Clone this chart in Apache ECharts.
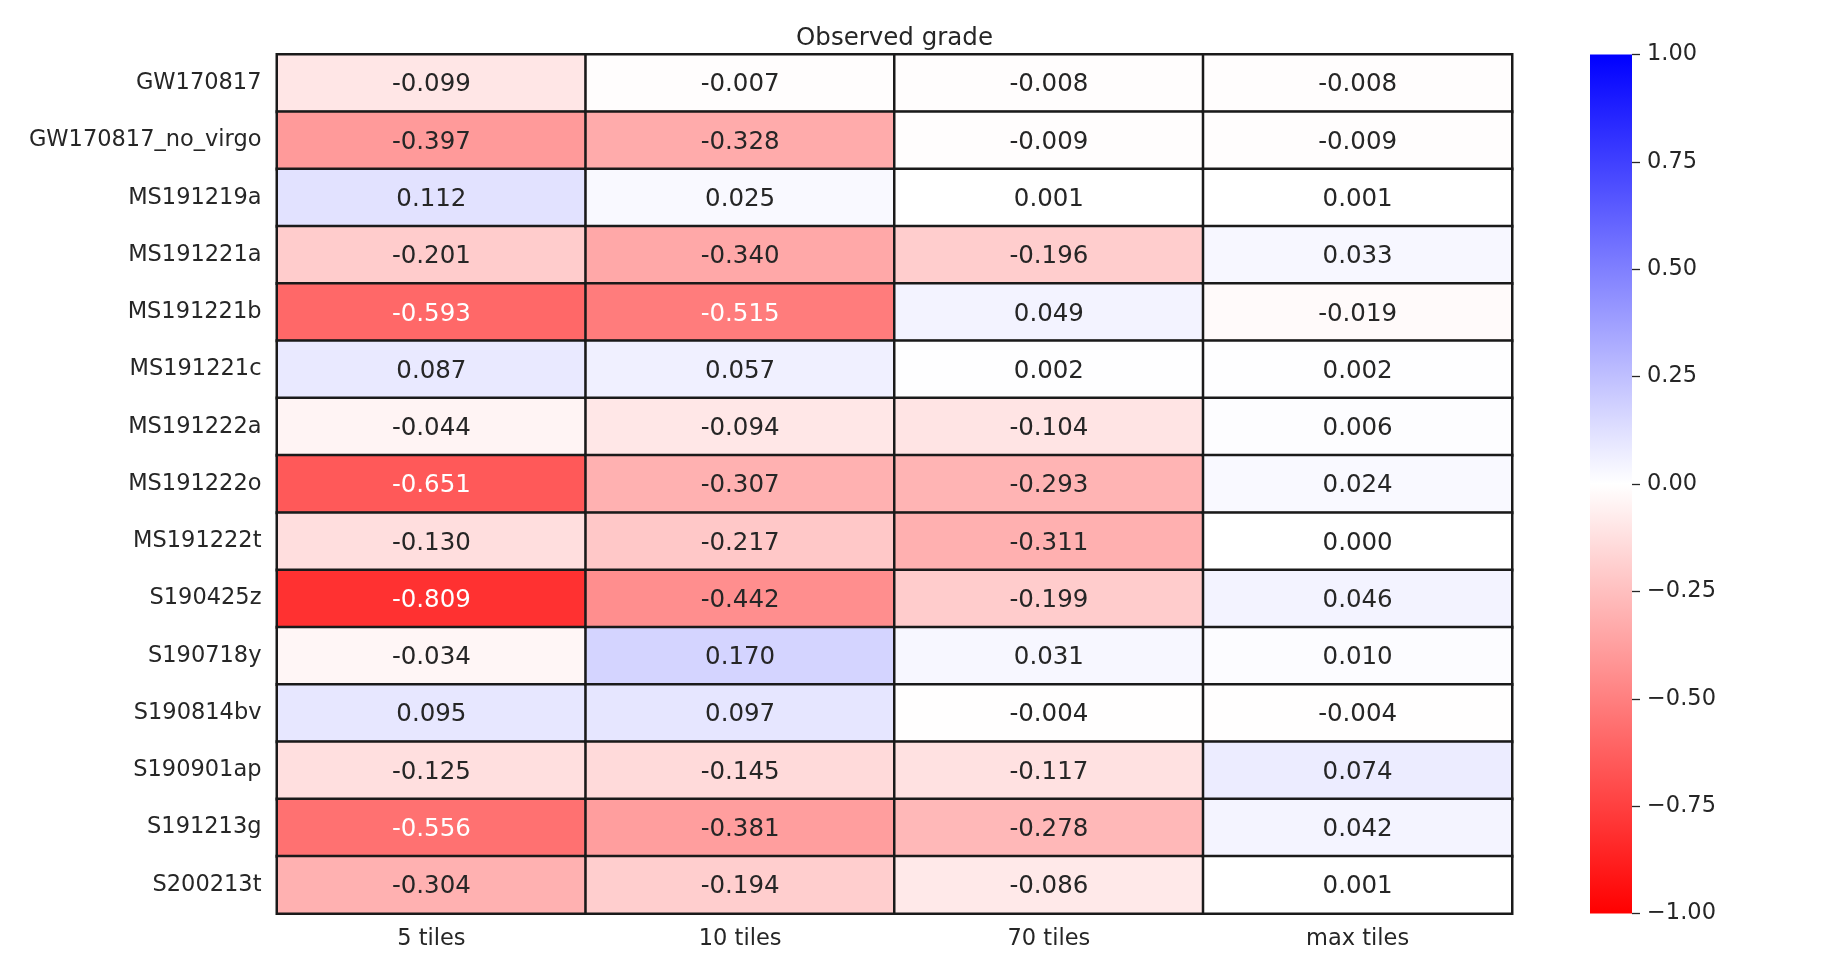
<!DOCTYPE html>
<html>
<head>
    <meta charset="UTF-8">
    <title>Observed grade</title>
    <style>
        body,
        html {
            width: 100%;
            height: 100%;
            margin: 0;
            padding: 0;
            background: #ffffff;
        }
        #myChart {
            width: 1848px;
            height: 977px;
        }
    </style>
    <script src="https://cdn.jsdelivr.net/npm/echarts@6.0.0/dist/echarts.min.js"></script>
</head>
<body>
    <div id="myChart"></div>
    <script>

        // row / column names
        const rowNames = ['GW170817', 'GW170817_no_virgo', 'MS191219a', 'MS191221a', 'MS191221b',
            'MS191221c', 'MS191222a', 'MS191222o', 'MS191222t', 'S190425z', 'S190718y',
            'S190814bv', 'S190901ap', 'S191213g', 'S200213t'];
        const colNames = ['5 tiles', '10 tiles', '70 tiles', 'max tiles'];

        // values per column, same order as rowNames
        const fiveTiles = [-0.099, -0.397, 0.112, -0.201, -0.593, 0.087, -0.044, -0.651, -0.130, -0.809, -0.034, 0.095, -0.125, -0.556, -0.304];
        const tenTiles = [-0.007, -0.328, 0.025, -0.340, -0.515, 0.057, -0.094, -0.307, -0.217, -0.442, 0.170, 0.097, -0.145, -0.381, -0.194];
        const seventyTiles = [-0.008, -0.009, 0.001, -0.196, 0.049, 0.002, -0.104, -0.293, -0.311, -0.199, 0.031, -0.004, -0.117, -0.278, -0.086];
        const maxTiles = [-0.008, -0.009, 0.001, 0.033, -0.019, 0.002, 0.006, 0.024, 0.000, 0.046, 0.010, -0.004, 0.074, 0.042, 0.001];

        const columns = [fiveTiles, tenTiles, seventyTiles, maxTiles];

        // colour scale ends (bwr_r)
        const scaleMin = -1;
        const scaleMax = 1;
        const scaleColors = ['#ff0000', '#ffffff', '#0000ff'];

        const FONT = 'DejaVu Sans';
        const TEXT = '#262626';

        // bwr_r: -1 red, 0 white, 1 blue
        function cellRgb(v) {
            if (v < 0) return [1, 1 + v, 1 + v];
            return [1 - v, 1 - v, 1];
        }
        // dark or light annotation depending on cell luminance
        function annotColor(v) {
            let c = cellRgb(v).map(x => x <= 0.03928 ? x / 12.92 : Math.pow((x + 0.055) / 1.055, 2.4));
            let lum = 0.2126 * c[0] + 0.7152 * c[1] + 0.0722 * c[2];
            return lum > 0.408 ? TEXT : '#ffffff';
        }

        let data = [];
        columns.forEach((col, x) => {
            col.forEach((v, y) => {
                data.push({ value: [x, y, v], label: { color: annotColor(v) } });
            });
        });

        let myEcharts = echarts.init(document.querySelector('#myChart'));

        // colorbar fill: top = max, bottom = min
        let barGradient = new echarts.graphic.LinearGradient(0, 0, 0, 1, [
            { offset: 0, color: scaleColors[2] },
            { offset: 0.5, color: scaleColors[1] },
            { offset: 1, color: scaleColors[0] }
        ]);

        let option = {
            backgroundColor: '#ffffff',
            animation: false,
            graphic: [{
                type: 'text',
                x: 894.5,
                y: 39,
                style: {
                    text: 'Observed grade',
                    align: 'center',
                    verticalAlign: 'middle',
                    fontFamily: FONT,
                    fontSize: 24.5,
                    fill: TEXT
                }
            }],
            grid: [
                { left: 277, top: 54.5, width: 1235, height: 859 },
                { left: 1590, top: 54.5, width: 42, height: 859, show: true, backgroundColor: barGradient, borderWidth: 0 }
            ],
            xAxis: [{
                type: 'category',
                gridIndex: 0,
                data: colNames,
                position: 'bottom',
                axisLine: { show: false },
                axisTick: { show: false },
                splitLine: { show: false },
                axisLabel: { color: TEXT, fontFamily: FONT, fontSize: 22.5, margin: 14 }
            }, {
                type: 'category',
                gridIndex: 1,
                data: [''],
                show: false
            }],
            yAxis: [{
                type: 'category',
                gridIndex: 0,
                data: rowNames,
                inverse: true,
                axisLine: { show: false },
                axisTick: { show: false },
                splitLine: { show: false },
                axisLabel: { color: TEXT, fontFamily: FONT, fontSize: 22.5, margin: 15.5, padding: [4, 0, 0, 0] }
            }, {
                // colorbar ticks
                type: 'value',
                gridIndex: 1,
                position: 'right',
                min: scaleMin,
                max: scaleMax,
                interval: 0.25,
                axisLine: { show: false, onZero: false },
                splitLine: { show: false },
                axisTick: { show: true, length: 8, lineStyle: { color: TEXT, width: 1.3 } },
                axisLabel: {
                    color: TEXT,
                    fontFamily: FONT,
                    fontSize: 22.5,
                    margin: 15,
                    padding: [4, 0, 0, 0],
                    formatter: v => v.toFixed(2).replace('-', '\u2212')
                }
            }],
            visualMap: {
                type: 'continuous',
                show: false,
                seriesIndex: 0,
                min: scaleMin,
                max: scaleMax,
                inRange: { color: scaleColors }
            },
            series: [{
                type: 'heatmap',
                xAxisIndex: 0,
                yAxisIndex: 0,
                data: data,
                itemStyle: { borderColor: '#1a1a1a', borderWidth: 2.5 },
                label: {
                    show: true,
                    fontFamily: FONT,
                    fontSize: 24.5,
                    offset: [0, 2],
                    formatter: p => p.value[2].toFixed(3)
                },
                emphasis: { disabled: true }
            }]
        };
        myEcharts.setOption(option, true);

    </script>
</body>
</html>
